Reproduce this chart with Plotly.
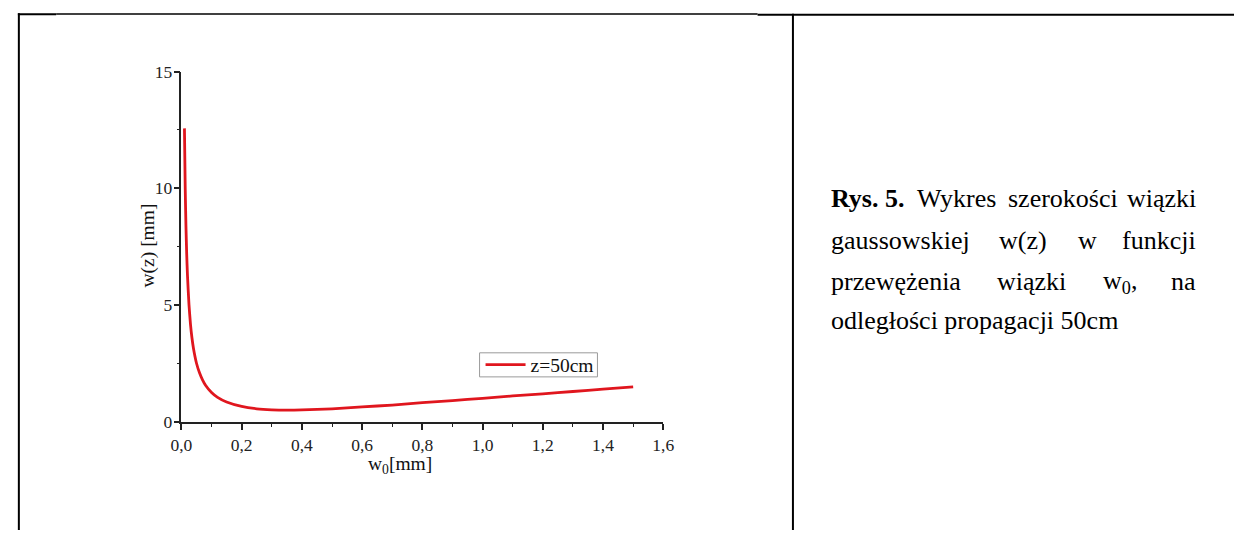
import plotly.graph_objects as go

# ---- data ----
w0_mm = [0.010, 0.0125, 0.015, 0.0175, 0.020, 0.025, 0.030, 0.035, 0.040, 0.045,
         0.050, 0.060, 0.070, 0.080, 0.100, 0.120, 0.150, 0.200, 0.250, 0.300,
         0.350, 0.400, 0.500, 0.600, 0.700, 0.800, 0.900, 1.000, 1.100, 1.200,
         1.300, 1.400, 1.500]
wz_mm = [12.57, 10.06, 8.38, 7.18, 6.29, 5.03, 4.19, 3.59, 3.14, 2.80,
         2.51, 2.10, 1.80, 1.57, 1.26, 1.05, 0.85, 0.66, 0.56, 0.515,
         0.50, 0.51, 0.56, 0.64, 0.72, 0.82, 0.91, 1.01, 1.11, 1.20,
         1.30, 1.40, 1.50]
series_name = "z=50cm"

x_tickvals = [0.0, 0.2, 0.4, 0.6, 0.8, 1.0, 1.2, 1.4, 1.6]
x_ticktext = ["0,0", "0,2", "0,4", "0,6", "0,8", "1,0", "1,2", "1,4", "1,6"]
y_tickvals = [0, 5, 10, 15]
y_ticktext = ["0", "5", "10", "15"]

W, H = 1245, 540
FONT = "Liberation Serif"

def px(x):
    return x / W

def py(y):
    return 1 - y / H

fig = go.Figure()
fig.add_trace(go.Scatter(
    x=w0_mm, y=wz_mm, mode="lines", name=series_name,
    line=dict(color="#e0161e", width=2.8, shape="spline", smoothing=0.6),
))

axis_common = dict(
    showline=True, linecolor="#222222", linewidth=1.5,
    ticks="outside", ticklen=6, tickwidth=1.5, tickcolor="#222222",
    showgrid=False, zeroline=False,
    tickfont=dict(family=FONT, size=17.5, color="#222222"),
)

fig.update_layout(
    autosize=True,
    margin=dict(l=0, r=0, t=0, b=0, pad=0),
    paper_bgcolor="white", plot_bgcolor="white",
    font=dict(family=FONT, color="#111111"),
    xaxis=dict(domain=[px(173.5), px(664)], range=[0, 1.6],
               tickvals=x_tickvals, ticktext=x_ticktext,
               minor=dict(ticks="outside", ticklen=3, dtick=0.1, tick0=0,
                          tickcolor="#222222", tickwidth=1.2),
               **axis_common),
    yaxis=dict(domain=[py(427.7), py(64)], range=[0, 15],
               tickvals=y_tickvals, ticktext=y_ticktext,
               ticklabelstandoff=-2,
               minor=dict(ticks="outside", ticklen=3, dtick=2.5, tick0=0,
                          tickcolor="#222222", tickwidth=1.2),
               **axis_common),
    showlegend=True,
    legend=dict(x=px(478), y=py(368.5), xanchor="left", yanchor="middle",
                bordercolor="rgba(0,0,0,0)", borderwidth=0,
                bgcolor="rgba(0,0,0,0)",
                font=dict(family=FONT, size=19.5, color="#111111"),
                tracegroupgap=0, itemwidth=40),
)

annotations = [
    dict(text="w(z) [mm]", x=px(139), y=py(245), textangle=-90,
         font=dict(family=FONT, size=19.5, color="#111111")),
    dict(text="w<sub>0</sub>[mm]", x=px(396), y=py(473),
         font=dict(family=FONT, size=19.5, color="#111111")),
]

cap_font = dict(family=FONT, size=26, color="#000000")
# caption words placed to imitate the justified paragraph: (text, x, anchor, y)
caption_words = [
    ("<b>Rys. 5.</b>", 833, "left", 196),
    ("Wykres", 920, "left", 196),
    ("szerokości", 1013, "left", 196),
    ("wiązki", 1208, "right", 196),
    ("gaussowskiej", 833, "left", 239),
    ("w(z)", 1004, "left", 239),
    ("w", 1084, "left", 239),
    ("funkcji", 1208, "right", 239),
    ("przewężenia", 833, "left", 282),
    ("wiązki", 1002, "left", 282),
    ("w<sub>0</sub>,", 1110, "left", 282),
    ("na", 1208, "right", 282),
    ("odległości propagacji 50cm", 833, "left", 322),
]
for t, x, anc, y in caption_words:
    annotations.append(dict(text=t, x=px(x), y=py(y), xanchor=anc,
                            yanchor="middle", font=cap_font))

for a in annotations:
    a.setdefault("xref", "paper")
    a.setdefault("yref", "paper")
    a.setdefault("showarrow", False)
    a.setdefault("xanchor", "center")
    a.setdefault("yanchor", "middle")
fig.update_layout(annotations=annotations)

# table borders and legend frame
shapes = [
    dict(type="line", x0=px(8), x1=px(8), y0=py(3.5), y1=py(540), line=dict(color="black", width=2)),
    dict(type="line", x0=px(7), x1=px(46), y0=py(4.5), y1=py(4.5), line=dict(color="black", width=2)),
    dict(type="line", x0=px(46), x1=px(760), y0=py(4.2), y1=py(4.2), line=dict(color="black", width=1.5)),
    dict(type="line", x0=px(760), x1=px(1245), y0=py(5), y1=py(5), line=dict(color="black", width=2)),
    dict(type="line", x0=px(796), x1=px(796), y0=py(4), y1=py(540), line=dict(color="black", width=2)),
    dict(type="rect", x0=px(477), x1=px(597), y0=py(356), y1=py(381),
         line=dict(color="#9a9a9a", width=1), fillcolor="white", layer="above"),
]
for s in shapes:
    s["xref"] = "paper"
    s["yref"] = "paper"
fig.update_layout(shapes=shapes)

fig.write_html(
    "out.html",
    config={"displayModeBar": False, "responsive": True},
    default_width="100vw",
    default_height="100vh",
    post_script="document.documentElement.style.overflow='hidden';document.body.style.margin='0';document.body.style.overflow='hidden';window.dispatchEvent(new Event('resize'));",
)
